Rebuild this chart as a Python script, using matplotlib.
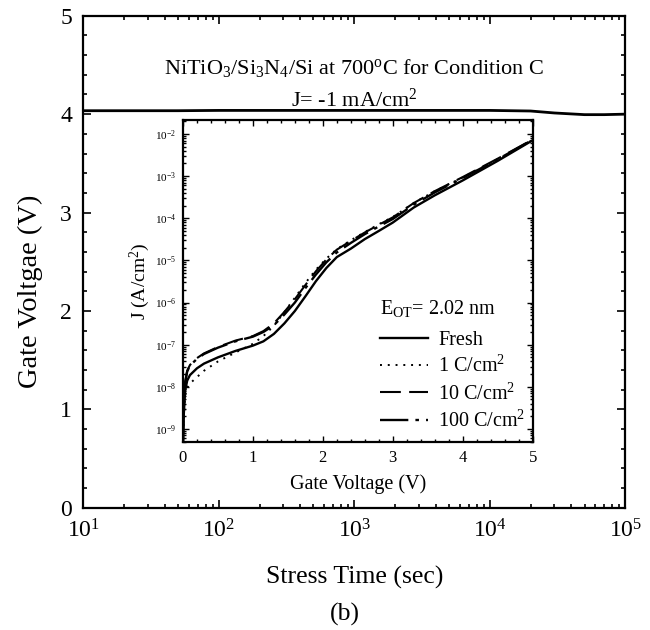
import numpy as np
import matplotlib
matplotlib.use("Agg")
import matplotlib.pyplot as plt
from matplotlib.ticker import LogLocator, MultipleLocator, NullFormatter, LogFormatterMathtext

plt.rcParams['font.family'] = ['Liberation Serif', 'DejaVu Serif']
plt.rcParams['mathtext.fontset'] = 'custom'
plt.rcParams['mathtext.rm'] = 'Liberation Serif'
plt.rcParams['mathtext.it'] = 'Liberation Serif:italic'

# main panel: gate voltage under constant current stress
stress_time = [10, 20, 50, 100, 300, 1000, 3000, 10000, 20000, 30000, 50000, 70000, 100000]
gate_voltage = [4.035, 4.035, 4.035, 4.038, 4.038, 4.038, 4.038, 4.038, 4.032, 4.012, 3.995, 3.995, 4.0]

# inset: J-V curves (A/cm^2)
v_gate = [0.0, 0.01, 0.03, 0.06, 0.1, 0.2, 0.3, 0.5, 0.75, 1.0, 1.15, 1.3, 1.45, 1.6,
          1.75, 1.9, 2.05, 2.2, 2.4, 2.6, 2.8, 3.0, 3.3, 3.6, 4.0, 4.5, 5.0]
j_fresh = [5.0e-10, 2.0e-9, 7.9e-9, 1.4e-8, 1.9e-8, 2.75e-8, 3.55e-8, 5.0e-8, 7.1e-8, 9.5e-8,
           1.2e-7, 1.8e-7, 3.2e-7, 6.3e-7, 1.4e-6, 3.2e-6, 6.6e-6, 1.2e-5, 1.9e-5, 3.2e-5,
           5.0e-5, 7.9e-5, 1.8e-4, 3.5e-4, 7.9e-4, 2.3e-3, 7.1e-3]
j_1c = [5.0e-10, 1.5e-9, 6.0e-9, 9.5e-9, 1.2e-8, 1.7e-8, 2.4e-8, 4.0e-8, 6.5e-8, 1.05e-7,
        1.6e-7, 2.8e-7, 6.0e-7, 1.3e-6, 2.9e-6, 6.0e-6, 1.1e-5, 1.85e-5, 3.0e-5, 4.7e-5,
        7.2e-5, 1.07e-4, 2.3e-4, 4.4e-4, 9.3e-4, 2.5e-3, 7.2e-3]
j_10c = [5.0e-10, 3.0e-9, 1.3e-8, 2.4e-8, 3.3e-8, 4.8e-8, 6.2e-8, 8.8e-8, 1.25e-7, 1.6e-7,
         2.1e-7, 3.2e-7, 6.0e-7, 1.2e-6, 2.6e-6, 5.5e-6, 1.05e-5, 1.8e-5, 2.9e-5, 4.6e-5,
         7.0e-5, 1.05e-4, 2.3e-4, 4.4e-4, 9.5e-4, 2.6e-3, 7.4e-3]
j_100c = [5.0e-10, 2.8e-9, 1.2e-8, 2.3e-8, 3.2e-8, 4.6e-8, 6.0e-8, 8.5e-8, 1.2e-7, 1.55e-7,
          2.0e-7, 2.9e-7, 5.2e-7, 1.0e-6, 2.2e-6, 4.6e-6, 9.0e-6, 1.55e-5, 2.6e-5, 4.2e-5,
          6.4e-5, 9.6e-5, 2.1e-4, 4.1e-4, 9.0e-4, 2.5e-3, 7.3e-3]

fig = plt.figure(figsize=(6.5, 6.3), dpi=100)
ax = fig.add_axes([0.128, 0.194, 0.834, 0.781])

ax.plot(stress_time, gate_voltage, color='black', lw=2.0)
ax.set_xscale('log')
ax.set_xlim(10, 1e5)
ax.set_ylim(0, 5)
ax.yaxis.set_major_locator(MultipleLocator(1))
ax.yaxis.set_minor_locator(MultipleLocator(0.2))
ax.xaxis.set_major_locator(LogLocator(base=10))
ax.xaxis.set_minor_locator(LogLocator(base=10, subs=np.arange(2, 10)))
ax.xaxis.set_minor_formatter(NullFormatter())
ax.tick_params(which='both', direction='in', top=True, right=True, width=1.2)
ax.tick_params(which='major', length=6, labelsize=17, pad=8)
ax.tick_params(which='minor', length=3)
for s in ax.spines.values():
    s.set_linewidth(1.6)
ax.set_xlabel('Stress Time (sec)', fontsize=18.5, labelpad=17)
ax.set_ylabel('Gate Voltgae (V)', fontsize=20.5)
ax.yaxis.set_label_coords(-0.074, 0.44)

ax.text(0.5, 0.894, r'NiTiO$_3$/Si$_3$N$_4$/Si at 700$^{\mathrm{o}}$C for Condition C',
        transform=ax.transAxes, ha='center', va='center', fontsize=16)
ax.text(0.5, 0.829, r'J= -1 mA/cm$^2$', transform=ax.transAxes,
        ha='center', va='center', fontsize=16)
fig.text(0.53, 0.024, '(b)', ha='center', va='center', fontsize=18.5)

# inset
ins = fig.add_axes([0.2815, 0.2984, 0.538, 0.511])
ins.plot(v_gate, j_fresh, color='black', lw=1.7, label='Fresh')
ins.plot(v_gate, j_1c, color='black', lw=1.4, ls=(0, (1, 3)), label='1 C/cm$^2$')
ins.plot(v_gate, j_10c, color='black', lw=1.5, ls=(0, (10, 4)), label='10 C/cm$^2$')
ins.plot(v_gate, j_100c, color='black', lw=1.7, ls=(0, (12, 3, 1.5, 3)), label='100 C/cm$^2$')
ins.set_yscale('log')
ins.set_xlim(0, 5)
ins.set_ylim(10 ** -9.31, 10 ** -1.67)
ins.xaxis.set_major_locator(MultipleLocator(1))
ins.xaxis.set_minor_locator(MultipleLocator(0.2))
ins.yaxis.set_major_locator(LogLocator(base=10, numticks=20))
ins.yaxis.set_minor_locator(LogLocator(base=10, subs=np.arange(2, 10), numticks=20))
ins.yaxis.set_minor_formatter(NullFormatter())
ins.yaxis.set_major_formatter(LogFormatterMathtext())
ins.tick_params(which='both', direction='in', top=True, right=True, width=1.0)
ins.tick_params(which='major', length=4)
ins.tick_params(which='minor', length=2)
ins.tick_params(axis='x', labelsize=12, pad=6)
ins.tick_params(axis='y', labelsize=8, pad=5)
for s in ins.spines.values():
    s.set_linewidth(1.6)
ins.set_xlabel('Gate Voltage (V)', fontsize=14.5, labelpad=5.5)
ins.set_ylabel(r'J (A/cm$^2$)', fontsize=14, labelpad=2)

leg = ins.legend(loc='lower right', bbox_to_anchor=(1.02, -0.012), frameon=False,
                 title=r'E$_{\mathrm{OT}}$= 2.02 nm', title_fontsize=14.5, fontsize=14.5,
                 handlelength=2.4, handletextpad=0.5, labelspacing=0.3, borderpad=0.2)
leg._legend_box.align = 'left'
leg._legend_box.sep = 0.3 * 14.5 + 4

fig.savefig('out.png', dpi=100)
